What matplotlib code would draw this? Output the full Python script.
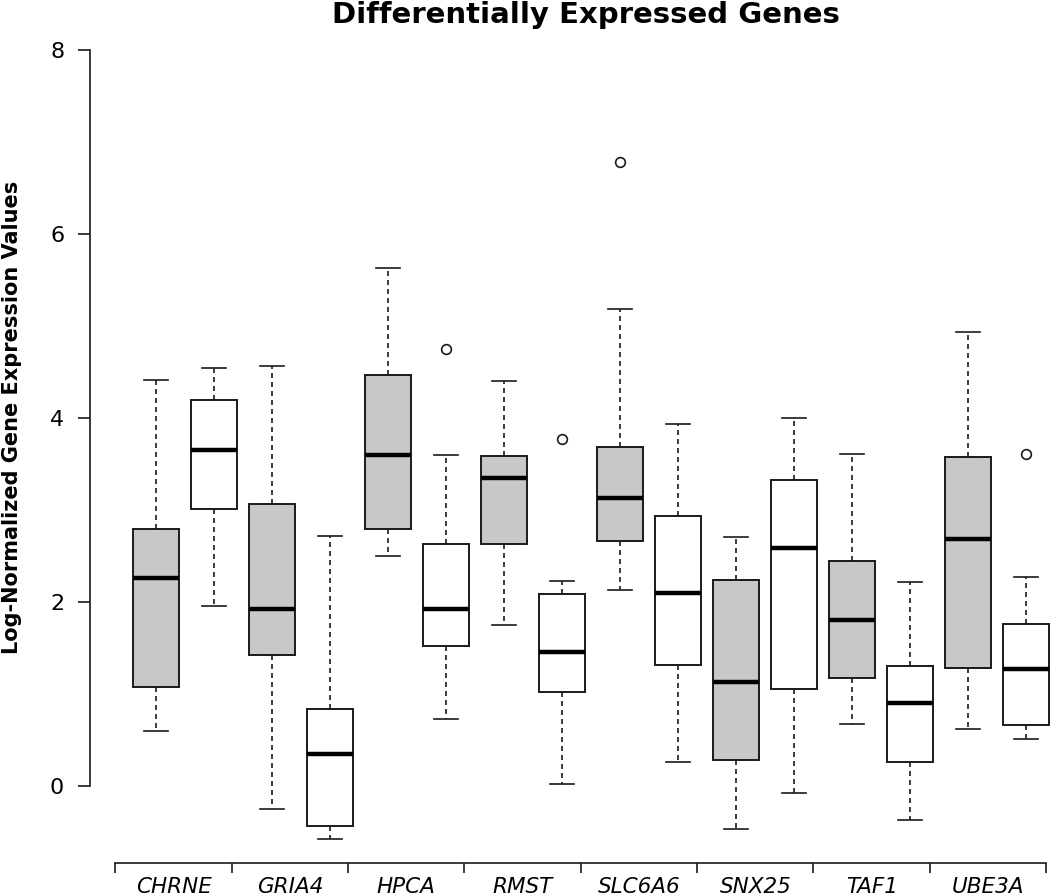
import matplotlib
matplotlib.use("Agg")
import matplotlib.pyplot as plt
import numpy as np

genes = ["CHRNE", "GRIA4", "HPCA", "RMST", "SLC6A6", "SNX25", "TAF1", "UBE3A"]

# grey boxes (first group of each gene)
a_whislo = [0.59, -0.26, 2.50, 1.74, 2.12, -0.47, 0.67, 0.61]
a_q1     = [1.07, 1.42, 2.79, 2.63, 2.66, 0.28, 1.17, 1.28]
a_med    = [2.26, 1.92, 3.59, 3.34, 3.13, 1.12, 1.80, 2.68]
a_q3     = [2.79, 3.06, 4.46, 3.58, 3.68, 2.23, 2.44, 3.57]
a_whishi = [4.41, 4.56, 5.62, 4.40, 5.18, 2.70, 3.60, 4.93]
a_fliers = [[], [], [], [], [6.78], [], [], []]

# white boxes (second group of each gene)
b_whislo = [1.95, -0.58, 0.72, 0.02, 0.26, -0.08, -0.37, 0.51]
b_q1     = [3.01, -0.44, 1.52, 1.02, 1.31, 1.05, 0.26, 0.66]
b_med    = [3.65, 0.34, 1.92, 1.45, 2.09, 2.58, 0.90, 1.27]
b_q3     = [4.19, 0.83, 2.63, 2.08, 2.93, 3.32, 1.30, 1.76]
b_whishi = [4.54, 2.71, 3.59, 2.22, 3.93, 4.00, 2.21, 2.27]
b_fliers = [[], [], [4.75], [3.77], [], [], [], [3.60]]

GREY = "#c8c8c8"
EDGE = "#1a1a1a"

W, H = 1050, 896
fig = plt.figure(figsize=(W / 100, H / 100), dpi=100)

# pixel geometry of the plot region (box 1 centre at x=156, 92 px per unit)
left_px, right_px, top_px, bot_px = 90, 1050, 21.9, 862.7
x0_px, dx_px = 156, 58
y0_px, dy_px = 785.5, 92
ax = fig.add_axes([left_px / W, 1 - bot_px / H,
                   (right_px - left_px) / W, (bot_px - top_px) / H])

stats, positions, faces = [], [], []
for i in range(len(genes)):
    stats.append(dict(whislo=a_whislo[i], q1=a_q1[i], med=a_med[i], q3=a_q3[i],
                      whishi=a_whishi[i], fliers=a_fliers[i]))
    positions.append(2 * i + 1)
    faces.append(GREY)
    stats.append(dict(whislo=b_whislo[i], q1=b_q1[i], med=b_med[i], q3=b_q3[i],
                      whishi=b_whishi[i], fliers=b_fliers[i]))
    positions.append(2 * i + 2)
    faces.append("white")

bp = ax.bxp(stats, positions=positions, widths=0.8, capwidths=0.4,
            patch_artist=True, showfliers=True,
            boxprops=dict(edgecolor=EDGE, linewidth=1.4),
            whiskerprops=dict(color=EDGE, linewidth=1.2, linestyle=(0, (3.0, 2.4))),
            capprops=dict(color=EDGE, linewidth=1.2),
            medianprops=dict(color="black", linewidth=3.2, solid_capstyle="butt"),
            flierprops=dict(marker="o", markerfacecolor="none", markeredgecolor=EDGE,
                            markersize=7, markeredgewidth=1.2))
for patch, fc in zip(bp["boxes"], faces):
    patch.set_facecolor(fc)

ax.set_xlim(1 + (left_px - x0_px) / dx_px, 1 + (right_px - x0_px) / dx_px)
ax.set_ylim((y0_px - bot_px) / dy_px, (y0_px - top_px) / dy_px)

for s in ["top", "right"]:
    ax.spines[s].set_visible(False)
ax.spines["left"].set_bounds(0, 8)
ax.spines["bottom"].set_bounds(0.3, 16.35)
for s in ["left", "bottom"]:
    ax.spines[s].set_linewidth(1.2)
    ax.spines[s].set_color(EDGE)

ax.set_yticks([0, 2, 4, 6, 8])
ax.tick_params(axis="y", length=8.6, width=1.2, color=EDGE, labelsize=16, pad=10)

group_edges = [0.3 + 2.006 * k for k in range(len(genes) + 1)]
ax.set_xticks(group_edges)
ax.set_xticklabels([])
ax.set_xticks([e + 1.003 for e in group_edges[:-1]], minor=True)
ax.set_xticklabels(genes, minor=True, fontstyle="italic", fontsize=15.5)
ax.tick_params(axis="x", which="major", length=7.2, width=1.2, color=EDGE)
ax.tick_params(axis="x", which="minor", length=0, pad=10)

fig.text(12 / W, 1 - 417 / H, "Log-Normalized Gene Expression Values",
         rotation=90, ha="center", va="center", fontsize=15, fontweight="bold")
fig.text(586 / W, 1 - 15 / H, "Differentially Expressed Genes",
         ha="center", va="center", fontsize=21, fontweight="bold")

fig.savefig("out.png", dpi=100)
